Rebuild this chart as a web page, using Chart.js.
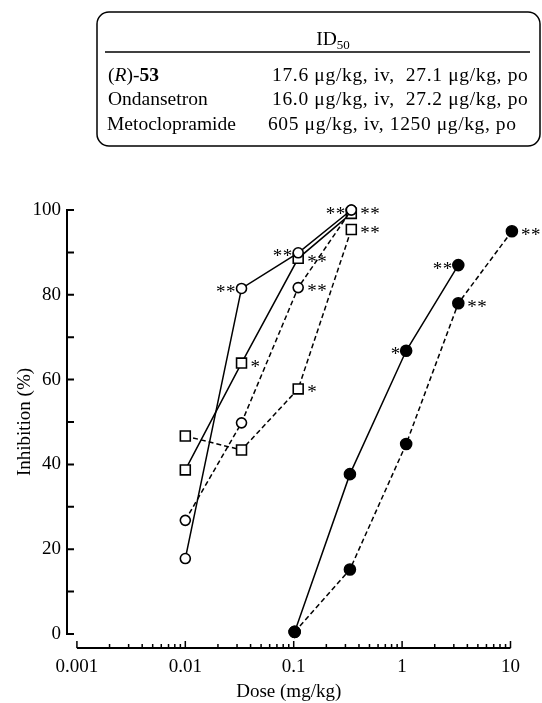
<!DOCTYPE html>
<html>
<head>
<meta charset="utf-8">
<script src="https://cdn.jsdelivr.net/npm/chart.js@4.4.0/dist/chart.umd.min.js"></script>
<style>
    html, body { margin: 0; padding: 0; background: #fff; }
    #wrap { width: 542px; height: 703px; position: relative; }
</style>
</head>
<body>
<div id="wrap"><canvas id="doseChart"></canvas></div>
<script>
// ============================================
// Dose-response (inhibition %)
// ============================================

// Doses (mg/kg)
const dosesLow = [0.01, 0.033, 0.11, 0.34];
const dosesHigh = [0.102, 0.33, 1.09, 3.3, 10.3];

// Inhibition (%) per series
const openCircleSolid = [17.8, 81.5, 89.9, 100];
const openSquareSolid = [38.7, 63.9, 88.6, 99.2];
const openCircleDashed = [26.8, 49.8, 81.7, 100];
const openSquareDashed = [46.7, 43.4, 57.8, 95.4];
const filledCircleSolid = [0.5, 37.7, 66.8, 87.0];
const filledCircleDashed = [0.5, 15.2, 44.8, 78.0, 95.0];

// Significance marks (left / right of each point)
const starsLeft = [
    ['', '**', '**', '**'],
    ['', '', '', ''],
    ['', '', '', ''],
    ['', '', '', ''],
    ['', '', '*', '**'],
    ['', '', '', '', '']
];
const starsRight = [
    ['', '', '', '**'],
    ['', '*', '**', ''],
    ['', '', '**', ''],
    ['', '', '*', '**'],
    ['', '', '', ''],
    ['', '', '', '**', '**']
];

// Axes
const xTicks = [0.001, 0.01, 0.1, 1, 10];
const xTickLabels = ['0.001', '0.01', '0.1', '1', '10'];
const yTicks = [0, 20, 40, 60, 80, 100];
const yTickMarks = [0, 10, 20, 30, 40, 50, 60, 70, 80, 90, 100];
const xTitle = 'Dose (mg/kg)';
const yTitle = 'Inhibition (%)';

// ID50 table
const tableHeader = 'ID';
const tableHeaderSub = '50';
const tableNames = ['Ondansetron', 'Metoclopramide'];
const tableValues = [
    '17.6 \u03bcg/kg, iv,  27.1 \u03bcg/kg, po',
    '16.0 \u03bcg/kg, iv,  27.2 \u03bcg/kg, po',
    '605 \u03bcg/kg, iv, 1250 \u03bcg/kg, po'
];

const SERIF = '"Liberation Serif", "DejaVu Serif", serif';

function pontos(doses, valores) {
    return valores.map((v, i) => ({ x: doses[i], y: v }));
}

function serie(doses, valores, estilo) {
    return Object.assign({
        data: pontos(doses, valores),
        borderColor: '#000',
        borderWidth: 1.5,
        pointBorderColor: '#000',
        pointBorderWidth: 1.6,
        pointHoverRadius: 0,
        tension: 0,
        clip: false,
        fill: false
    }, estilo);
}

// Text stretched to a given width (letter spacing when available)
function textoLargo(ctx, texto, x, y, largura) {
    const w = ctx.measureText(texto).width;
    const extra = (largura - w) / Math.max(texto.length - 1, 1);
    if ('letterSpacing' in ctx) {
        ctx.letterSpacing = extra.toFixed(2) + 'px';
        ctx.fillText(texto, x, y);
        ctx.letterSpacing = '0px';
    } else {
        ctx.save();
        ctx.translate(x, y);
        ctx.scale(largura / w, 1);
        ctx.fillText(texto, 0, 0);
        ctx.restore();
    }
}

// Axis lines and inward tick marks
const axesPlugin = {
    id: 'axes',
    afterDraw(chart) {
        const { ctx, scales: { x, y } } = chart;
        ctx.save();
        ctx.strokeStyle = '#000';
        ctx.lineWidth = 2;

        // y axis
        const ax = x.left;
        ctx.beginPath();
        ctx.moveTo(ax, y.getPixelForValue(0));
        ctx.lineTo(ax, y.getPixelForValue(100));
        yTickMarks.forEach(v => {
            const py = y.getPixelForValue(v);
            ctx.moveTo(ax - 1, py);
            ctx.lineTo(ax + 7, py);
        });
        ctx.stroke();

        // x axis, detached below
        const ay = y.bottom + 14;
        ctx.beginPath();
        ctx.moveTo(x.getPixelForValue(xTicks[0]), ay);
        ctx.lineTo(x.getPixelForValue(xTicks[xTicks.length - 1]), ay);
        ctx.stroke();

        ctx.lineWidth = 1.5;
        ctx.beginPath();
        xTicks.forEach((d, i) => {
            const px = x.getPixelForValue(d);
            ctx.moveTo(px, ay);
            ctx.lineTo(px, ay - 7);
            if (i < xTicks.length - 1) {
                for (let k = 2; k <= 9; k++) {
                    const pm = x.getPixelForValue(d * k);
                    ctx.moveTo(pm, ay);
                    ctx.lineTo(pm, ay - 4);
                }
            }
        });
        ctx.stroke();

        // titles
        ctx.fillStyle = '#000';
        ctx.font = '19px ' + SERIF;
        ctx.textAlign = 'center';
        ctx.textBaseline = 'middle';
        ctx.fillText(xTitle, (x.left + x.right) / 2, 692);

        ctx.translate(25, (y.top + y.bottom) / 2);
        ctx.rotate(-Math.PI / 2);
        ctx.fillText(yTitle, 0, 0);
        ctx.restore();
    }
};

// Asterisks next to points
const starsPlugin = {
    id: 'stars',
    afterDatasetsDraw(chart) {
        const ctx = chart.ctx;
        ctx.save();
        ctx.fillStyle = '#000';
        ctx.font = '19px ' + SERIF;
        ctx.textBaseline = 'alphabetic';
        ctx.textAlign = 'left';
        const passo = 10;
        const w = ctx.measureText('*').width;
        chart.data.datasets.forEach((ds, di) => {
            const meta = chart.getDatasetMeta(di);
            meta.data.forEach((el, pi) => {
                const esq = starsLeft[di][pi];
                const dir = starsRight[di][pi];
                if (esq) {
                    for (let k = 0; k < esq.length; k++) {
                        const sx = el.x - 6 - w - (esq.length - 1 - k) * passo;
                        ctx.fillText('*', sx, el.y + 9.5);
                    }
                }
                if (dir) {
                    for (let k = 0; k < dir.length; k++) {
                        ctx.fillText('*', el.x + 9 + k * passo, el.y + 9.5);
                    }
                }
            });
        });
        ctx.restore();
    }
};

// ID50 box at the top
const tablePlugin = {
    id: 'table',
    afterDraw(chart) {
        const ctx = chart.ctx;
        ctx.save();
        ctx.strokeStyle = '#000';
        ctx.lineWidth = 1.5;
        ctx.beginPath();
        ctx.roundRect(97, 12, 443, 134, 12);
        ctx.stroke();

        ctx.beginPath();
        ctx.moveTo(105, 52);
        ctx.lineTo(530, 52);
        ctx.stroke();

        ctx.fillStyle = '#000';
        ctx.textBaseline = 'alphabetic';
        ctx.textAlign = 'left';
        ctx.font = '19.5px ' + SERIF;
        const wId = ctx.measureText(tableHeader).width;
        ctx.font = '13px ' + SERIF;
        const wSub = ctx.measureText(tableHeaderSub).width;
        const hx = 333 - (wId + wSub) / 2;
        ctx.font = '19.5px ' + SERIF;
        ctx.fillText(tableHeader, hx, 45);
        ctx.font = '13px ' + SERIF;
        ctx.fillText(tableHeaderSub, hx + wId, 49);

        // (R)-53 with italic R and bold number
        const linhas = [81, 105, 130];
        let tx = 108;
        ctx.font = '19.5px ' + SERIF;
        ctx.fillText('(', tx, linhas[0]);
        tx += ctx.measureText('(').width;
        ctx.font = 'italic 19.5px ' + SERIF;
        ctx.fillText('R', tx, linhas[0]);
        tx += ctx.measureText('R').width;
        ctx.font = '19.5px ' + SERIF;
        ctx.fillText(')-', tx, linhas[0]);
        tx += ctx.measureText(')-').width;
        ctx.font = 'bold 19.5px ' + SERIF;
        ctx.fillText('53', tx, linhas[0]);

        ctx.font = '19.5px ' + SERIF;
        ctx.fillText(tableNames[0], 108, linhas[1]);
        ctx.fillText(tableNames[1], 107, linhas[2]);

        const inicio = [272, 272, 268];
        const largura = [256, 256, 248];
        tableValues.forEach((t, i) => textoLargo(ctx, t, inicio[i], linhas[i], largura[i]));
        ctx.restore();
    }
};

const ctx = document.getElementById('doseChart').getContext('2d');

new Chart(ctx, {
    type: 'line',
    data: {
        datasets: [
            serie(dosesLow, openCircleSolid, { pointStyle: 'circle', pointRadius: 5, pointBackgroundColor: '#fff', order: 1 }),
            serie(dosesLow, openSquareSolid, { pointStyle: 'rect', pointRadius: 7, pointBackgroundColor: '#fff', order: 3 }),
            serie(dosesLow, openCircleDashed, { pointStyle: 'circle', pointRadius: 5, pointBackgroundColor: '#fff', borderDash: [5, 3], order: 2 }),
            serie(dosesLow, openSquareDashed, { pointStyle: 'rect', pointRadius: 7, pointBackgroundColor: '#fff', borderDash: [5, 3], order: 4 }),
            serie(dosesHigh, filledCircleSolid, { pointStyle: 'circle', pointRadius: 5.5, pointBackgroundColor: '#000' }),
            serie(dosesHigh, filledCircleDashed, { pointStyle: 'circle', pointRadius: 5.5, pointBackgroundColor: '#000', borderDash: [5, 3] })
        ]
    },
    options: {
        responsive: true,
        maintainAspectRatio: false,
        animation: false,
        layout: {
            padding: { top: 210, right: 27, bottom: 0, left: 0 }
        },
        plugins: {
            legend: { display: false },
            tooltip: { enabled: false }
        },
        scales: {
            x: {
                type: 'logarithmic',
                min: 0.00081,
                max: 10,
                grid: { display: false, drawTicks: false },
                border: { display: false },
                afterFit: scale => { scale.height = 69; },
                afterBuildTicks: scale => { scale.ticks = xTicks.map(v => ({ value: v })); },
                ticks: {
                    autoSkip: false,
                    maxRotation: 0,
                    padding: 22,
                    color: '#000',
                    font: { family: SERIF, size: 19 },
                    callback: value => xTickLabels[xTicks.indexOf(value)]
                }
            },
            y: {
                type: 'linear',
                min: 0,
                max: 100,
                grid: { display: false, drawTicks: false },
                border: { display: false },
                afterFit: scale => { scale.width = 67; },
                afterBuildTicks: scale => { scale.ticks = yTicks.map(v => ({ value: v })); },
                ticks: {
                    padding: 6,
                    color: '#000',
                    font: { family: SERIF, size: 19 },
                    callback: value => String(value)
                }
            }
        }
    },
    plugins: [axesPlugin, starsPlugin, tablePlugin]
});
</script>
</body>
</html>
